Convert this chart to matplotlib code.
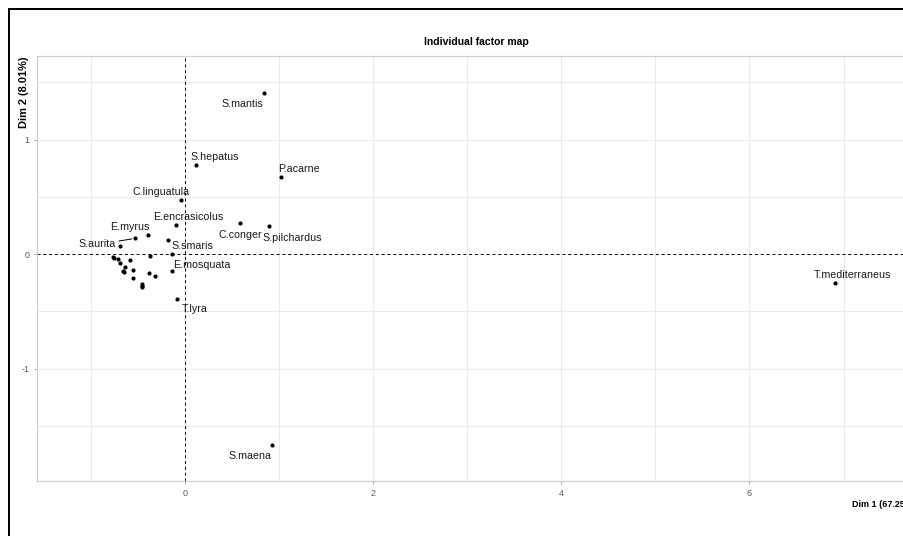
import matplotlib
matplotlib.use("Agg")
import matplotlib.pyplot as plt
from matplotlib.lines import Line2D
from matplotlib.ticker import MultipleLocator

plt.rcParams["axes.unicode_minus"] = False

# individuals with a label
names = ["S.mantis", "S.maena", "T.mediterraneus", "S.hepatus", "P.acarne",
         "C.linguatula", "E.encrasicolus", "C.conger", "S.pilchardus",
         "E.myrus", "S.aurita", "S.smaris", "E.mosquata", "T.lyra"]
dim1 = [0.838, 0.927, 6.914, 0.115, 1.023, -0.040, -0.101, 0.580, 0.888,
        -0.395, -0.537, -0.136, -0.136, -0.083]
dim2 = [1.411, -1.664, -0.250, 0.777, 0.675, 0.474, 0.253, 0.271, 0.247,
        0.166, 0.137, 0.003, -0.148, -0.393]

# individuals drawn without a label (the cluster on the left)
other_dim1 = [-0.183, -0.689, -0.377, -0.768, -0.757, -0.714, -0.590, -0.689,
              -0.643, -0.661, -0.651, -0.555, -0.385, -0.324, -0.555, -0.459,
              -0.459, -0.455]
other_dim2 = [0.125, 0.070, -0.017, -0.026, -0.032, -0.041, -0.052, -0.081,
              -0.116, -0.148, -0.157, -0.140, -0.160, -0.189, -0.212, -0.256,
              -0.277, -0.288]

# label placement (pixels from the point), like ggrepel put them
label_dx = [-21, -22, 17, 19, 18, -20, 13, 1, 24, -18, -37, 20, 30, 17]
label_dy = [-11, -11, 8, 8, 8, 8, 8, -12, -12, 8, -6, 8, 6, -10]
with_segment = ["S.aurita"]

W, H = 904, 536
fig = plt.figure(figsize=(W / 100, H / 100), dpi=100)
fig.patch.set_facecolor("white")

# panel runs a little past the right edge of the picture (cropped screenshot)
left, right, top, bottom = 37, 916, 56, 481
ax = fig.add_axes([left / W, 1 - bottom / H, (right - left) / W, (bottom - top) / H])
ax.set_xlim(-1.574, 7.77)
ax.set_ylim(-1.98, 1.73)

ax.xaxis.set_major_locator(MultipleLocator(2))
ax.xaxis.set_minor_locator(MultipleLocator(1))
ax.yaxis.set_major_locator(MultipleLocator(1))
ax.yaxis.set_minor_locator(MultipleLocator(0.5))
ax.grid(True, which="both", color="#ebebeb", linewidth=0.8)
ax.set_axisbelow(True)
for sp in ax.spines.values():
    sp.set_color("#d0d0d0")
    sp.set_linewidth(0.9)

font = ["Liberation Sans", "DejaVu Sans"]
ax.tick_params(which="major", length=2.5, width=0.6, color="#9a9a9a",
               labelcolor="#5a5a5a", pad=3)
ax.tick_params(which="minor", length=0)
for lab in ax.get_xticklabels() + ax.get_yticklabels():
    lab.set_fontfamily(font)
    lab.set_fontsize(6.5)

ax.axhline(0, color="black", linewidth=0.7, linestyle=(0, (3, 3)), zorder=2)
ax.axvline(0, color="black", linewidth=0.7, linestyle=(0, (3, 3)), zorder=2)

ax.scatter(other_dim1, other_dim2, s=9, color="black", zorder=3, linewidths=0)
ax.scatter(dim1, dim2, s=9, color="black", zorder=3, linewidths=0)

for name, x, y, dx, dy in zip(names, dim1, dim2, label_dx, label_dy):
    arrow = None
    if name in with_segment:
        arrow = dict(arrowstyle="-", color="black", lw=0.7, shrinkA=0, shrinkB=2)
    ax.annotate(name, (x, y), xytext=(dx, dy), textcoords="offset pixels",
                ha="center", va="center", fontsize=7.7, family=font,
                color="#1a1a1a", arrowprops=arrow, zorder=4)

ax.set_title("Individual factor map", fontsize=7.5, fontweight="bold",
             family=font, pad=8)
ax.set_xlabel("Dim 1 (67.25%)", fontsize=6.5, fontweight="bold", family=font)
ax.xaxis.set_label_coords(1.0, -19 / (bottom - top))
ax.xaxis.label.set_horizontalalignment("right")
ax.set_ylabel("Dim 2 (8.01%)", fontsize=7.9, fontweight="bold", family=font)
ax.yaxis.set_label_coords(-13 / (right - left), 1.0)
ax.yaxis.label.set_verticalalignment("center")
ax.yaxis.label.set_horizontalalignment("right")

# black frame of the original screenshot (left and top edges only)
lw = 2 * 72 / 100
fig.add_artist(Line2D([9 / W, 9 / W], [0, 1 - 9 / H], color="black", linewidth=lw))
fig.add_artist(Line2D([9 / W, 1], [1 - 9 / H, 1 - 9 / H], color="black", linewidth=lw))

fig.savefig("out.png", dpi=100)
